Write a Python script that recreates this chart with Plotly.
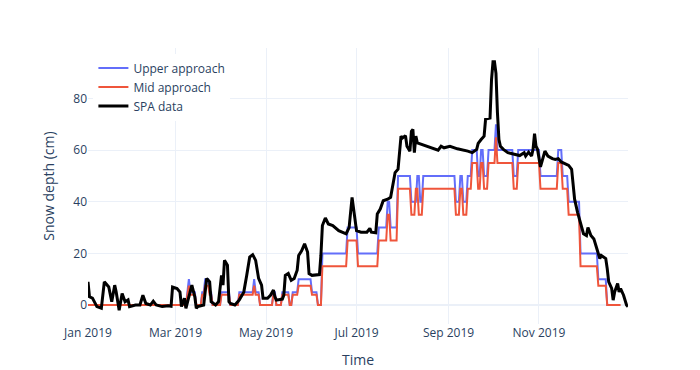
import pandas as pd
import plotly.graph_objects as go

# days since 1 Jan 2019, snow depth in cm
spa_day = [0, 1, 3, 6, 9, 11, 14, 16, 18, 19,
           21, 23, 25, 27, 28, 32, 35, 37, 39, 42,
           44, 46, 50, 54, 56, 57, 60, 62, 63, 65,
           66, 68, 70, 72, 73, 74, 78, 80, 82, 83,
           86, 88, 90, 91, 92, 94, 95, 96, 99, 102,
           105, 107, 109, 111, 113, 115, 117, 118, 121, 123,
           125, 126, 127, 131, 132, 133, 135, 137, 139, 141,
           142, 144, 146, 148, 149, 151, 156, 157, 158, 160,
           162, 165, 169, 174, 176, 178, 179, 181, 184, 188,
           190, 191, 194, 195, 197, 199, 202, 204, 205, 207,
           209, 210, 211, 212, 214, 215, 217, 218, 219, 220,
           221, 222, 225, 229, 236, 238, 240, 244, 249, 256,
           259, 262, 263, 265, 267, 268, 271, 272, 273, 274,
           275, 276, 277, 278, 280, 283, 287, 291, 294, 295,
           297, 299, 300, 301, 302, 303, 305, 307, 308, 310,
           313, 315, 317, 319, 322, 324, 326, 327, 328, 330,
           332, 334, 336, 337, 339, 341, 343, 345, 346, 349,
           350, 351, 353, 354, 355, 357, 358, 359, 361, 363,
           364]
spa_cm = [9, 3.2, 2.7, -0.6, -1.2, 9, 7, 1.3, 7.7, 5,
          -2, 4.5, 1.3, 2, -0.6, 0, 0, 3.8, 0.6, 0,
          1.5, 0, -0.6, -0.3, -0.5, 7, 6.4, 5, -0.6, 2.6,
          -1.3, 3.8, 7.7, 3.2, -1.3, -0.6, 0, 10.3, 9, 1.3,
          0, 1.3, 11.5, 7.7, 17.3, 15.4, 1.3, 0.6, 0, 2,
          5, 11.5, 18.6, 19.5, 17.3, 10.3, 7.7, 2.6, 2.6, 3.8,
          5.8, 3.2, 1.9, 2.3, 3.8, 11.5, 12.2, 9.6, 10.3, 13.5,
          19.2, 21, 23.7, 20.5, 12.2, 11.5, 11.8, 19.2, 30.8, 33.7,
          31.4, 30.8, 28.8, 27.6, 30, 41.7, 37.2, 28.8, 28.2, 28.2,
          29.7, 28.2, 28, 35.3, 37.2, 40.4, 41, 41.7, 44.9, 51.3,
          52.6, 60.3, 65.4, 64.7, 65.6, 61.5, 59.6, 67.3, 68, 59,
          65.4, 62.8, 62.2, 61.5, 60, 61.5, 60.9, 61.5, 60.5, 59.6,
          59, 60.3, 62.6, 64.1, 65.4, 72, 72.4, 87.2, 94.2, 94.2,
          89.7, 74.4, 64.1, 61.5, 60.3, 59, 58.3, 57.9, 59, 57.7,
          59.2, 57.7, 60.3, 66.4, 61.5, 60.3, 53.5, 57, 59.6, 57.7,
          56.7, 56.4, 56.7, 55.4, 54.5, 54.1, 52.6, 47.4, 41, 35.9,
          32, 27.6, 26.9, 30, 26.9, 25.6, 21.8, 18, 19.2, 18,
          14.1, 9, 6.4, 1.9, 5.1, 8.3, 5.1, 6.4, 3.8, 0,
          -0.6]

upper_day = [0, 66, 67, 68, 69, 72, 73, 76, 77, 78, 79, 81, 82, 83, 84,
             89, 90, 95, 96, 101, 102, 111, 112, 113, 115, 116,
             124, 125, 126, 127, 130, 131, 135, 136, 137, 138, 141, 142,
             150, 151, 154, 155, 157, 158, 174, 175, 181, 182, 195, 196,
             201, 202, 203, 204, 208, 209, 217, 218, 221, 222, 223, 224,
             225, 226, 247, 248, 250, 251, 252, 253, 255, 256, 258, 259,
             262, 263, 264, 265, 266, 267, 269, 270, 274, 275, 276, 286,
             287, 289, 290, 304, 305, 316, 317, 319, 320, 323, 324, 331,
             332, 343, 344, 349, 350, 358]
upper_cm = [0, 0, 5, 10, 5, 5, 0, 0, 5, 5, 10, 10, 5, 5, 0,
            0, 5, 5, 0, 0, 5, 5, 10, 5, 5, 0,
            0, 5, 5, 0, 0, 5, 5, 0, 0, 5, 5, 10,
            10, 5, 5, 0, 0, 20, 20, 30, 30, 20, 20, 30,
            30, 40, 40, 30, 30, 50, 50, 40, 40, 50, 50, 40,
            40, 50, 50, 40, 40, 50, 50, 40, 40, 50, 50, 60,
            60, 50, 50, 60, 60, 50, 50, 60, 60, 70, 60, 60,
            50, 50, 60, 60, 50, 50, 60, 60, 50, 50, 40, 40,
            20, 20, 10, 10, 0, 0]

mid_day = [0, 66, 67, 68, 69, 72, 73, 76, 77, 78, 79, 81, 82, 83, 84,
           89, 90, 95, 96, 101, 102, 111, 112, 113, 115, 116,
           124, 125, 126, 127, 130, 131, 135, 136, 137, 138, 141, 142,
           150, 151, 154, 155, 157, 158, 174, 175, 181, 182, 195, 196,
           201, 202, 203, 204, 208, 209, 217, 218, 220, 221, 222, 223,
           225, 226, 247, 248, 250, 251, 252, 253, 255, 256, 258, 259,
           262, 263, 264, 265, 266, 267, 269, 270, 274, 275, 276, 286,
           287, 289, 290, 304, 305, 316, 317, 319, 320, 323, 324, 331,
           332, 343, 344, 349, 350, 359]
mid_cm = [0, 0, 4, 7.5, 4, 4, 0, 0, 4, 4, 7.5, 7.5, 4, 4, 0,
          0, 4, 4, 0, 0, 4, 4, 7.5, 4, 4, 0,
          0, 4, 4, 0, 0, 4, 4, 0, 0, 4, 4, 7.5,
          7.5, 4, 4, 0, 0, 15, 15, 25, 25, 15, 15, 25,
          25, 35, 35, 25, 25, 45, 45, 35, 35, 45, 45, 35,
          35, 45, 45, 35, 35, 45, 45, 35, 35, 45, 45, 55,
          55, 45, 45, 55, 55, 45, 45, 55, 55, 65, 55, 55,
          45, 45, 55, 55, 45, 45, 55, 55, 45, 45, 35, 35,
          15, 15, 7.5, 7.5, 0, 0]

start = pd.Timestamp("2019-01-01")
to_dates = lambda days: start + pd.to_timedelta(days, unit="D")

fig = go.Figure()
fig.add_trace(go.Scatter(x=to_dates(upper_day), y=upper_cm, mode="lines", name="Upper approach",
                         line=dict(color="#636EFA", width=2)))
fig.add_trace(go.Scatter(x=to_dates(mid_day), y=mid_cm, mode="lines", name="Mid approach",
                         line=dict(color="#EF553B", width=2)))
fig.add_trace(go.Scatter(x=to_dates(spa_day), y=spa_cm, mode="lines", name="SPA data",
                         line=dict(color="black", width=3)))

fig.update_layout(template="plotly_white", width=700, height=370,
                  margin=dict(l=80, r=80, t=40, b=50),
                  xaxis_title="Time", yaxis_title="Snow depth (cm)",
                  legend=dict(x=0.01, y=0.98, bgcolor="white"),
                  xaxis=dict(range=["2019-01-01", "2019-12-31"]))

fig.write_html("out.html")
